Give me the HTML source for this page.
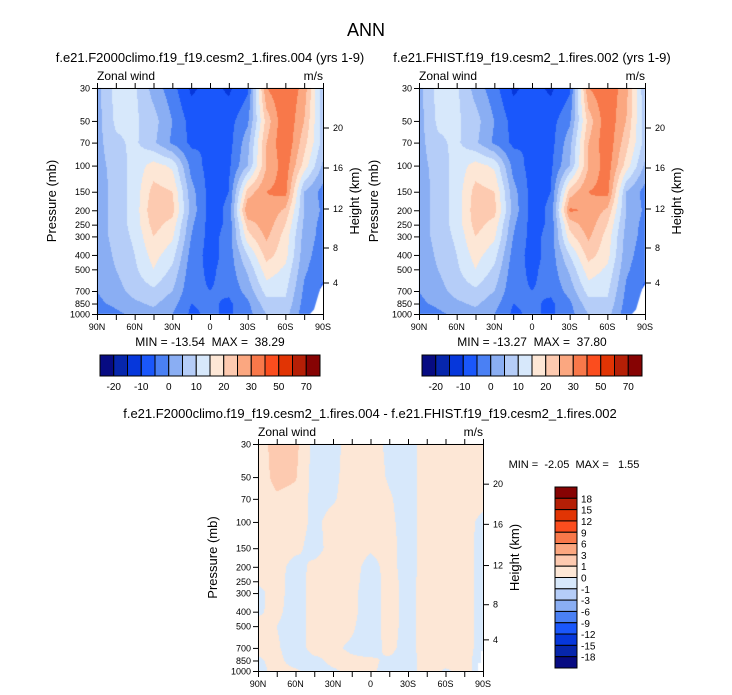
<!DOCTYPE html>
<html><head><meta charset="utf-8">
<style>
body{margin:0;background:#fff;}
#root{position:relative;width:732px;height:695px;overflow:hidden;background:#fff;font-family:"Liberation Sans",sans-serif;}
canvas{position:absolute;left:0;top:0;}
svg{position:absolute;left:0;top:0;}
</style></head>
<body>
<div id="root">
<canvas id="cv" width="732" height="695"></canvas>
<svg id="sv" width="732" height="695"></svg>
</div>
<script>
const lats=['90N','75N','60N','45N','30N','15N','0','15S','30S','45S','60S','75S','90S'];
const plev=[30,50,70,100,150,200,250,300,400,500,700,850,1000];
const u1=[
[3,12,11,3,-3,-11,-8,-11,-6,30,35,28,6],
[3,11,11,7,0,-7,-8,-7,-1,22,35,25,7],
[3,9,11,6,-1,-6,-5,-7,3,25,35,22,8],
[3,7,12,17,14,-2,-7,-6,5,25,33,18,4],
[2,7,12,22,20,2,-7,-5,22,30,32,5,-2],
[2,7,12,24,22,3,-7,-4,30,29,24,5,-1],
[2,7,12,22,18,1,-7,-4,22,28,20,4,-2],
[2,7,11,20,16,0,-7,-3,18,26,18,3,-2],
[1,6,10,17,12,-2,-7,-3,10,22,17,2,-3],
[1,5,9,15,9,-3,-6,-3,6,18,14,1,-4],
[0,3,7,9,5,-4,-5,-4,2,12,11,-1,-6],
[-1,1,4,6,2,-5,-4,-6,-1,8,9,-2,-5],
[-3,-1,1,3,0,-6,-4,-6,-2,5,7,-3,-5]];
const u2=[
[3,12,11,3,-3,-11,-8,-11,-6,30,34,27,6],
[3,11,11,7,0,-7,-8,-7,-1,22,34,25,7],
[3,9,11,6,-1,-6,-5,-7,3,25,34,22,8],
[3,7,12,17,14,-2,-7,-6,5,25,33,18,4],
[2,7,12,22,20,2,-7,-5,22,30,32,5,-2],
[2,7,12,23,22,3,-7,-4,31,29,24,5,-1],
[2,7,12,22,18,1,-7,-4,22,28,20,4,-2],
[2,7,11,20,16,0,-7,-3,18,26,18,3,-2],
[1,6,10,17,12,-2,-7,-3,10,22,17,2,-3],
[1,5,9,15,9,-3,-6,-3,6,18,14,1,-4],
[0,3,7,9,5,-4,-5,-4,2,12,11,-1,-6],
[-1,1,4,6,2,-5,-4,-6,-1,8,9,-2,-5],
[-3,-1,1,3,0,-6,-4,-6,-2,5,7,-3,-5]];
const diff=[
[.3,1.6,1.3,-.4,-.3,.4,.4,-.2,-.4,.4,.4,.4,.4],
[.3,1.4,1.1,-.4,-.2,.4,.4,-.1,-.4,.4,.4,.4,.4],
[.3,.8,.6,-.3,-.1,.4,.4,.1,-.4,.4,.4,.4,.4],
[.3,.4,.4,-.2,.3,.4,.4,.2,-.4,.4,.4,.4,-.3],
[.3,.4,.2,-.3,.3,.4,.1,.3,-.4,.4,.4,.3,-.3],
[.2,.3,-.3,.2,.3,.3,-.3,.3,-.4,.4,.4,.3,-.3],
[.1,.3,-.4,.3,.3,.3,-.4,.3,-.3,.4,.4,.3,-.3],
[-.2,.3,-.4,.3,.3,.2,-.4,.3,-.3,.4,.4,.3,-.3],
[-.1,.2,-.4,.3,.3,.2,-.4,.3,-.3,.4,.4,.3,-.3],
[.2,0,-.4,.3,.3,.1,-.4,.3,-.3,.4,.4,.3,-.3],
[.2,.1,-.4,.3,.1,-.1,-.3,.2,-.3,.4,.4,.3,-.3],
[-.1,.2,-.3,-.2,.2,.1,.1,-.1,-.3,.3,.3,.2,-.3],
[-.2,.2,.1,-.3,-.1,.2,.1,-.2,-.3,.3,-.1,.2,-.3]];
const levelsAbs=[-20,-15,-10,-5,0,5,10,15,20,25,30,40,50,60,70];
const levelsDiff=[-18,-15,-12,-9,-6,-3,-1,0,1,3,6,9,12,15,18];
const labelsAbs=['-20','-10','0','10','20','30','50','70'];
const labelsDiff=['18','15','12','9','6','3','1','0','-1','-3','-6','-9','-12','-15','-18'];
const xTicks=['90N','60N','30N','0','30S','60S','90S'];
const hTicks=['20','16','12','8','4'];
const colors=['#070b82','#0626ac','#0637db','#1a57fb','#4a80f4','#8aaef3','#b5cdf8','#d7e8fb','#fde7d6','#fdcab0','#fba780','#f8784a','#fb4d1e','#e13404','#b51f06','#860303'];

const svg=document.getElementById('sv');
const NS='http://www.w3.org/2000/svg';
function mk(tag,attrs,parent){const e=document.createElementNS(NS,tag);for(const k in attrs)e.setAttribute(k,attrs[k]);(parent||svg).appendChild(e);return e;}
function txt(x,y,s,size,anchor,rot){const t=mk('text',{x:x,y:y,'font-size':size,'text-anchor':anchor||'middle','font-family':'Liberation Sans, sans-serif',fill:'#000'});if(rot)t.setAttribute('transform','rotate(-90 '+x+' '+y+')');t.textContent=s;return t;}

const lnMin=Math.log(30),lnMax=Math.log(1000);
function colorFor(v,levels){let i=0;while(i<levels.length&&v>=levels[i])i++;return colors[i];}
function sample(data,fx,lnp){
  let r=0;while(r<plev.length-2&&lnp>Math.log(plev[r+1]))r++;
  const a=Math.log(plev[r]),b=Math.log(plev[r+1]);let t=(lnp-a)/(b-a);t=Math.max(0,Math.min(1,t));
  let c=Math.floor(fx);if(c>11)c=11;const s=fx-c;
  const v0=data[r][c]*(1-s)+data[r][c+1]*s,v1=data[r+1][c]*(1-s)+data[r+1][c+1]*s;
  return v0*(1-t)+v1*t;
}
const ctx=document.getElementById('cv').getContext('2d');
function drawField(data,x0,y0,w,h,levels){
  for(let px=0;px<w;px++){for(let py=0;py<h;py++){
    const fx=(px+0.5)/w*12;const lnp=lnMin+(py+0.5)/h*(lnMax-lnMin);
    ctx.fillStyle=colorFor(sample(data,fx,lnp),levels);ctx.fillRect(x0+px,y0+py,1,1);}}
}
const hFrac=[40/226,80/226,121/226,160/226,195/226];
function axes(name,x0,y0,w,h){
  const g=mk('g',{});
  const fr=mk('rect',{x:x0+.5,y:y0+.5,width:w,height:h,fill:'none',stroke:'#000','stroke-width':1},g);
  
  for(let i=0;i<13;i++){const x=x0+.5+i*w/12;
    mk('line',{x1:x,x2:x,y1:y0,y2:y0-5,stroke:'#000'},g);mk('line',{x1:x,x2:x,y1:y0+h+1,y2:y0+h+6,stroke:'#000'},g);}
  xTicks.forEach((s,i)=>{const t=txt(x0+i*w/6,y0+h+16,s,9);});
  plev.forEach(p=>{const y=y0+.5+(Math.log(p)-lnMin)/(lnMax-lnMin)*h;mk('line',{x1:x0,x2:x0-5,y1:y,y2:y,stroke:'#000'},g);
    const t=txt(x0-7,y+3,String(p),9,'end');});
  hTicks.forEach((s,i)=>{const y=y0+hFrac[i]*h;mk('line',{x1:x0+w+1,x2:x0+w+6,y1:y,y2:y,stroke:'#000'},g);
    const t=txt(x0+w+10,y+3,s,9,'start');});
  let t=txt(x0,y0-8,'Zonal wind',12,'start');
  t=txt(x0+w,y0-8,'m/s',12,'end');
  t=txt(x0-41,y0+h/2,'Pressure (mb)',13,'middle',true);
  t=txt(x0+w+36,y0+h/2,'Height (km)',13,'middle',true);
}
function mask(x0,y0,w,h){ctx.fillStyle='#fff';ctx.beginPath();
  ctx.moveTo(x0+w,y0+h*0.87);ctx.lineTo(x0+w-3,y0+h*0.89);ctx.lineTo(x0+w-5,y0+h*0.92);ctx.lineTo(x0+w-7,y0+h*0.95);ctx.lineTo(x0+w-9,y0+h*0.98);ctx.lineTo(x0+w-13,y0+h);ctx.lineTo(x0+w,y0+h);ctx.fill();}
function hbar(x0,y0,w,h){const bw=w/16;
  colors.forEach((c,i)=>{const r=mk('rect',{x:x0+i*bw,y:y0,width:bw,height:h,fill:c,stroke:'#000','stroke-width':1});});
  labelsAbs.forEach((s,i)=>{const t=txt(x0+(2*i+1)*bw,y0+h+14,s,10);});}

const P1={x:97,y:88,w:226,h:226},P2={x:419,y:88,w:226,h:226},P3={x:258,y:444,w:225,h:227};
drawField(u1,P1.x,P1.y,P1.w,P1.h,levelsAbs);mask(P1.x,P1.y,P1.w,P1.h);
drawField(u2,P2.x,P2.y,P2.w,P2.h,levelsAbs);mask(P2.x,P2.y,P2.w,P2.h);
drawField(diff,P3.x,P3.y,P3.w,P3.h,levelsDiff);
ctx.fillStyle='#fff';ctx.fillRect(P3.x+P3.w-5,P3.y+P3.h-8,5,8);ctx.fillRect(P3.x+P3.w-2,P3.y+P3.h-20,2,20);
axes('left-panel',P1.x,P1.y,P1.w,P1.h);axes('right-panel',P2.x,P2.y,P2.w,P2.h);axes('diff-panel',P3.x,P3.y,P3.w,P3.h);
hbar(100,355,220,21);hbar(422,355,220,21);
const vb=181/16;
colors.slice().reverse().forEach((c,i)=>{const r=mk('rect',{x:555,y:487+i*vb,width:22,height:vb,fill:c,stroke:'#000','stroke-width':1});});
labelsDiff.forEach((s,i)=>{const t=txt(581,487+(i+1)*vb+4,s,10,'start');});
let t=txt(366,36,'ANN',18);
t=txt(210,62,'f.e21.F2000climo.f19_f19.cesm2_1.fires.004 (yrs 1-9)',13);
t=txt(532,62,'f.e21.FHIST.f19_f19.cesm2_1.fires.002 (yrs 1-9)',13);
t=txt(370,418,'f.e21.F2000climo.f19_f19.cesm2_1.fires.004 - f.e21.FHIST.f19_f19.cesm2_1.fires.002',13);
t=txt(210,346,'MIN = -13.54  MAX =  38.29',12);t.style.whiteSpace='pre';
t=txt(532,346,'MIN = -13.27  MAX =  37.80',12);t.style.whiteSpace='pre';
t=txt(574,468,'MIN =  -2.05  MAX =   1.55',11);t.style.whiteSpace='pre';
</script>
</body></html>
